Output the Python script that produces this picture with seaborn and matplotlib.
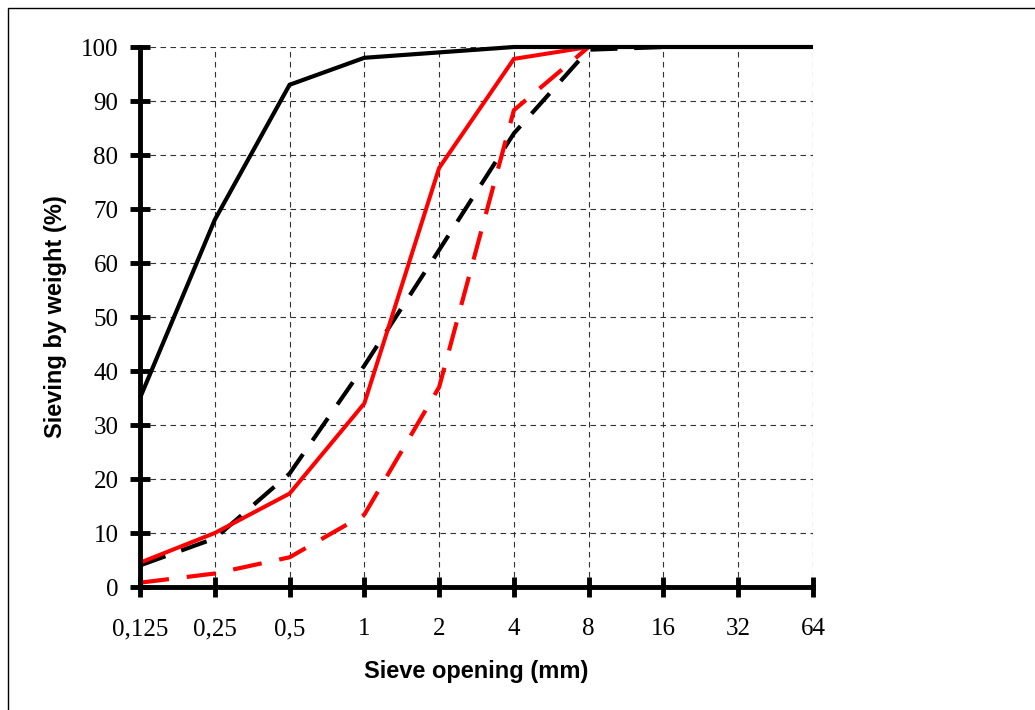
import matplotlib
matplotlib.use("Agg")
import matplotlib.pyplot as plt
import seaborn as sns
import pandas as pd
from matplotlib.patches import Rectangle

# data
sieve_mm = [0.125, 0.25, 0.5, 1, 2, 4, 8, 16, 32, 64]
tick_labels = ["0,125", "0,25", "0,5", "1", "2", "4", "8", "16", "32", "64"]

black_solid = [35, 68, 93, 98, 99, 100, 100, 100, 100, 100]
black_dashed = [4, 9, 21, 41, 62.4, 84, 99.5, 100]
red_solid = [4.5, 10, 17.3, 34, 77.6, 97.8, 100]
red_dashed = [0.8, 2.5, 5.5, 13.4, 37, 88.3, 100]

sns.set_theme(style="white", rc={
    "text.color": "black",
    "axes.labelcolor": "black",
    "xtick.color": "black",
    "ytick.color": "black",
})
plt.rcParams.update({
    "font.family": ["Liberation Sans", "DejaVu Sans"],
})

fig = plt.figure(figsize=(10.35, 7.1), dpi=100)
ax = fig.add_axes([140 / 1035, 1 - 587 / 710, (813 - 140) / 1035, (587 - 47) / 710])

series = [
    ("black dashed", black_dashed, "black", (6.5, 4), 3.0),
    ("red dashed", red_dashed, "#ff0000", (7, 4.3), 3.0),
    ("red solid", red_solid, "#ff0000", None, 2.9),
    ("black solid", black_solid, "black", None, 3.0),
]
for name, vals, col, dash, lw in series:
    df = pd.DataFrame({"x": sieve_mm[:len(vals)], "y": vals})
    sns.lineplot(data=df, x="x", y="y", ax=ax, color=col, linewidth=lw,
                 estimator=None, sort=False)
    l = ax.lines[-1]
    if dash is not None:
        l.set_dashes(dash)
    l.set_clip_on(False)
    l.set_solid_capstyle("butt")
    l.set_dash_capstyle("butt")
    l.set_solid_joinstyle("miter")

ax.set_xscale("log", base=2)
ax.set_xlim(0.125, 64)
ax.set_ylim(0, 100)
ax.set_xticks(sieve_mm)
ax.set_xticklabels(tick_labels)
ax.set_yticks(range(0, 101, 10))
ax.minorticks_off()

ax.grid(True, color="#333333", linestyle=(0, (5, 4)), linewidth=0.8)
ax.set_axisbelow(True)

for s in ["top", "right"]:
    ax.spines[s].set_visible(False)
for s in ["left", "bottom"]:
    ax.spines[s].set_visible(True)
    ax.spines[s].set_color("black")
    ax.spines[s].set_linewidth(3.5)

ax.tick_params(axis="both", which="major", direction="inout", length=15, width=3.5,
               color="black", labelsize=18, bottom=True, left=True)
for lab in ax.get_xticklabels() + ax.get_yticklabels():
    lab.set_family(["Liberation Serif", "DejaVu Serif"])
ax.tick_params(axis="x", pad=15)
ax.tick_params(axis="y", pad=8)

ax.set_xlabel("Sieve opening (mm)", fontsize=17, fontweight="bold", labelpad=14)
ax.set_ylabel("Sieving by weight (%)", fontsize=17, fontweight="bold", labelpad=10)

# thin frame around the chart area (as in the reference)
fig.patches.append(Rectangle((8 / 1035, -0.1), 1.2, 1.1 - 8 / 710,
                             transform=fig.transFigure, fill=False,
                             edgecolor="black", linewidth=1))

fig.savefig("out.png", dpi=100)
